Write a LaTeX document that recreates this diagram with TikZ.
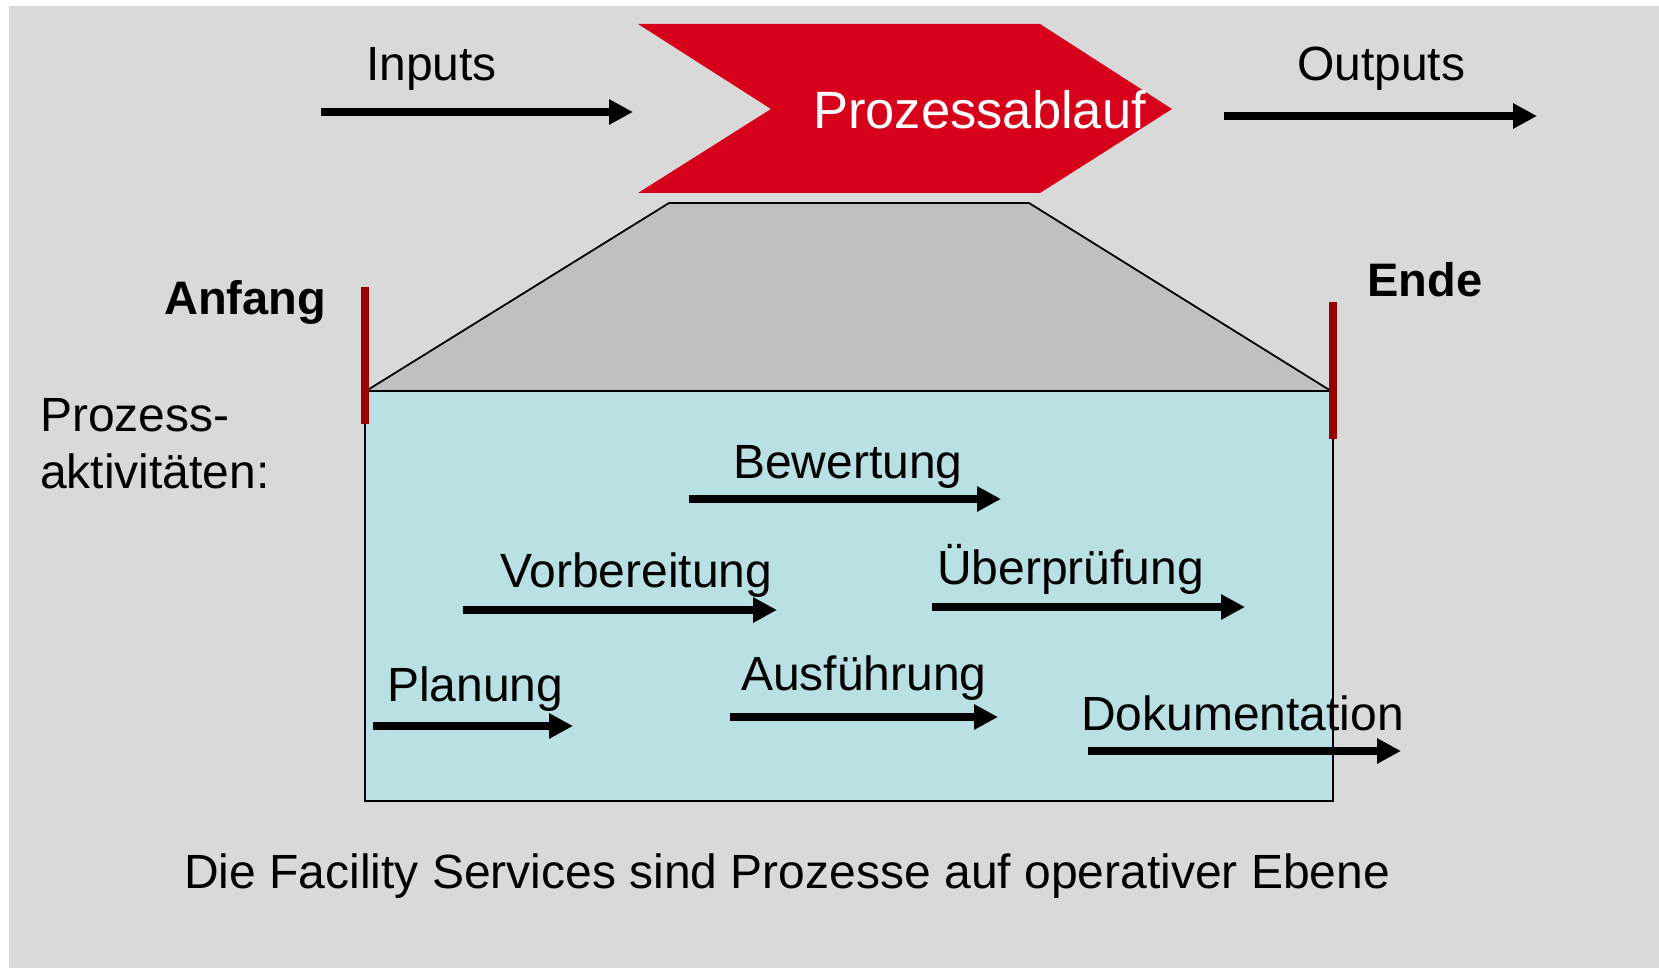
\documentclass[tikz,border=0pt]{standalone}
\usepackage{fontspec}
\setmainfont{Liberation Sans}
\usetikzlibrary{arrows.meta}
\definecolor{bggrey}{HTML}{D9D9D9}
\definecolor{trapgrey}{HTML}{C0C0C0}
\definecolor{actblue}{HTML}{B9E0E3}
\definecolor{procred}{HTML}{D7001B}
\definecolor{barred}{HTML}{990000}
\begin{document}
\begin{tikzpicture}[x=1pt,y=-1pt,
  lbl/.style={anchor=base west, inner sep=0pt, font=\fontsize{48}{58}\selectfont},
  boldlbl/.style={anchor=base west, inner sep=0pt, font=\fontsize{47}{56}\selectfont\bfseries},
  flow/.style={line width=8pt, -{Triangle[length=24pt,width=24pt]}},
  endbar/.style={draw=barred, line width=8pt},
  outline/.style={draw=black, line width=1.8pt, line join=miter}
]
\useasboundingbox (0,0) rectangle (1659,968);
% page and panel background
\fill[white] (0,0) rectangle (1659,968);
\fill[bggrey] (9,6) rectangle (1659,968);

% process chevron
\fill[procred] (638,24) -- (1040,24) -- (1172,109) -- (1040,193) -- (638,193) -- (771,109) -- cycle;
\node[anchor=base west, inner sep=0pt, text=white, font=\fontsize{52.5}{62}\selectfont] (ablauf) at (813,129) {Prozessablauf};

% inputs / outputs
\node[lbl] (inputs) at (366,81) {Inputs};
\coordinate (inS) at (321,112);
\coordinate (inE) at (633,112);
\draw[flow] (inS) -- (inE);
\node[lbl] (outputs) at (1297,81) {Outputs};
\coordinate (outS) at (1224,116);
\coordinate (outE) at (1537,116);
\draw[flow] (outS) -- (outE);

% magnifying trapezoid and activity panel
\path[fill=trapgrey, outline] (366,391) -- (669,203) -- (1029,203) -- (1331,391) -- cycle;
\path[fill=actblue, outline] (365,391) rectangle (1333,801);

% start / end bars
\coordinate (aTop) at (365,287);
\coordinate (aBot) at (365,424);
\draw[endbar] (aTop) -- (aBot);
\coordinate (eTop) at (1333,302);
\coordinate (eBot) at (1333,439);
\draw[endbar] (eTop) -- (eBot);
\node[boldlbl] (anfang) at (164,314) {Anfang};
\node[boldlbl] (ende) at (1367,297) {Ende};

% left caption
\node[lbl] (proz1) at (40,431) {Prozess-};
\node[lbl] (proz2) at (40,488) {aktivitäten:};

% activities
\node[lbl] (bew) at (733,478) {Bewertung};
\coordinate (bewS) at (689,499);
\coordinate (bewE) at (1001,499);
\draw[flow] (bewS) -- (bewE);

\node[lbl] (vor) at (500,587) {Vorbereitung};
\coordinate (vorS) at (463,610);
\coordinate (vorE) at (777,610);
\draw[flow] (vorS) -- (vorE);

\node[lbl] (ueb) at (937,584) {Überprüfung};
\coordinate (uebS) at (932,607);
\coordinate (uebE) at (1245,607);
\draw[flow] (uebS) -- (uebE);

\node[lbl] (plan) at (387,701) {Planung};
\coordinate (planS) at (373,726);
\coordinate (planE) at (573,726);
\draw[flow] (planS) -- (planE);

\node[lbl] (aus) at (741,690) {Ausführung};
\coordinate (ausS) at (730,717);
\coordinate (ausE) at (998,717);
\draw[flow] (ausS) -- (ausE);

\node[lbl] (dok) at (1081,730) {Dokumentation};
\coordinate (dokS) at (1088,751);
\coordinate (dokE) at (1401,751);
\draw[flow] (dokS) -- (dokE);

% footer
\node[lbl] (footer) at (184,888) {Die Facility Services sind Prozesse auf operativer Ebene};
\end{tikzpicture}
\end{document}
